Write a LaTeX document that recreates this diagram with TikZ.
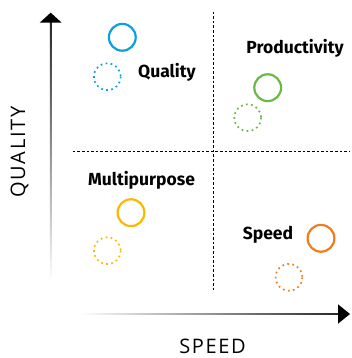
\documentclass[tikz,border=0pt]{standalone}
\usepackage{fontspec}
\setmainfont{Fira Sans}
\newfontfamily\axisfont[LetterSpace=8]{Open Sans}
\usepackage{xcolor}
\definecolor{qualblue}{RGB}{12,160,224}
\definecolor{prodgreen}{RGB}{106,184,70}
\definecolor{multiyellow}{RGB}{250,184,0}
\definecolor{speedorange}{RGB}{238,125,30}

\begin{document}
\begin{tikzpicture}[x=1pt,y=-1pt,
	ring/.style={line width=2.2pt},
	dotring/.style={line width=1.7pt, dash pattern=on 1.7pt off 3.4pt},
	quad/.style={line width=0.8pt, dash pattern=on 2.6pt off 2pt},
	lbl/.style={font=\bfseries\fontsize{17.5}{17.5}\selectfont, inner sep=0pt},
	axislbl/.style={font=\axisfont\fontsize{20}{20}\selectfont, inner sep=0pt}]
	\useasboundingbox (0,0) rectangle (351,358);
	\def\r{13.4};
	% axes
	\shade[top color=black!85, bottom color=white] (49.8,21) rectangle (51.6,282);
	\fill (50.7,12.7) -- (61.7,22.7) -- (39.7,22.7) -- cycle;
	\shade[left color=white, right color=black!85] (80,313.1) rectangle (340,314.9);
	\fill (350,314) -- (338,304.3) -- (338,323.7) -- cycle;
	\node[axislbl, rotate=90] (qaxis) at (19.5,152) {QUALITY};
	\node[axislbl] (saxis) at (212.5,346.5) {SPEED};
	% quadrants
	\draw[quad] (213.3,11.7) -- (213.3,291.7);
	\draw[quad] (72.7,151.7) -- (349,151.7);
	% quality
	\draw[ring, qualblue] (122.3,37.3) circle (\r);
	\draw[dotring, qualblue] (107.3,76.7) circle (\r);
	\node[lbl, anchor=west] (quality) at (138,72) {Quality};
	% productivity
	\draw[ring, prodgreen] (267.7,87.7) circle (\r);
	\draw[dotring, prodgreen] (247.7,117.7) circle (\r);
	\node[lbl] (productivity) at (295,48) {Productivity};
	% multipurpose
	\draw[ring, multiyellow] (131,212.7) circle (\r);
	\draw[dotring, multiyellow] (107.3,250.7) circle (\r);
	\node[lbl] (multipurpose) at (141.5,180) {Multipurpose};
	% speed
	\draw[ring, speedorange] (321,238.3) circle (\r);
	\draw[dotring, speedorange] (289,277.3) circle (\r);
	\node[lbl] (speed) at (268,235) {Speed};
\end{tikzpicture}
\end{document}
